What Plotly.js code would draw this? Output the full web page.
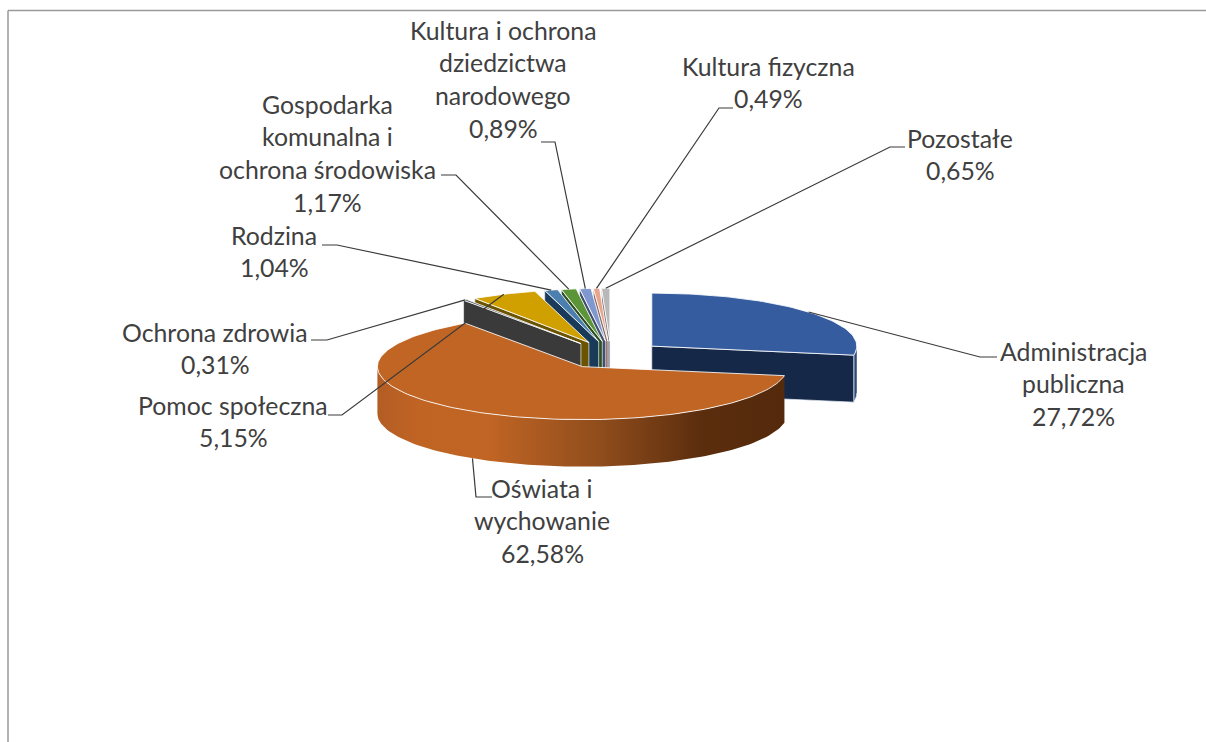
<!DOCTYPE html>
<html>
<head>
<meta charset="utf-8">
<script src="https://cdn.plot.ly/plotly-3.0.1.min.js"></script>
<style>html,body{margin:0;padding:0;background:#fff}#chart{width:1206px;height:742px}</style>
</head>
<body>
<div id="chart"></div>
<script>
// Data, in pie order (clockwise from 12 o'clock)
const categories = ['Administracja publiczna','Oświata i wychowanie','Ochrona zdrowia','Pomoc społeczna','Rodzina','Gospodarka komunalna i ochrona środowiska','Kultura i ochrona dziedzictwa narodowego','Kultura fizyczna','Pozostałe'];
const shares = [27.72,62.58,0.31,5.15,1.04,1.17,0.89,0.49,0.65];
const labelLines = [['Administracja','publiczna'],['Oświata i','wychowanie'],['Ochrona zdrowia'],['Pomoc społeczna'],['Rodzina'],['Gospodarka','komunalna i','ochrona środowiska'],['Kultura i ochrona','dziedzictwa','narodowego'],['Kultura fizyczna'],['Pozostałe']];
const topColors = ['#355c9f','#c16524','#4a4a4a','#d09f00','#4a7fb0','#5b9538','#7f98cf','#e8a58c','#b8b8b8'];
const wallColors = ['#152847','#542a0c','#3a3a3a','#6b5300','#1a3a5a','#2f4f1f','#434f70','#8a6a60','#777777'];
// Label layout (px): centre x, first-line centre y, line spacing
const labelX = [1073,542,215,233,274,327,503,768,960];
const labelY = [351,488,332,405,235,104,30,66,138];
const lineGap = 32.7;
// Leader elbows (px): [far end x, elbow x, elbow y]
const elbows = [[997,980,357],[492,476,497],[311,327,340],[328,342,415],[322,337,245],[441,456,175],[541,555,142],[733,719,108],[905,890,147]];

// Projection of the exploded 3-D pie
const CX = 611, CY = 355, RX = 205, RY = 53, EXPLODE = 0.26, DEPTH = 47;
const rad = d => d * Math.PI / 180;
let acc = 0;
const slices = shares.map((s, i) => {
  const a0 = acc / 100 * 360; acc += s; const a1 = acc / 100 * 360; const mid = (a0 + a1) / 2;
  return {i, a0, a1, mid, cx: CX + EXPLODE * RX * Math.sin(rad(mid)), cy: CY - EXPLODE * RY * Math.cos(rad(mid))};
});
const rimPt = (sl, a, dz) => [sl.cx + RX * Math.sin(rad(a)), sl.cy - RY * Math.cos(rad(a)) + (dz || 0)];
const arc = (sl, a0, a1, dz) => { const p = []; const n = Math.max(2, Math.ceil(Math.abs(a1 - a0) / 1.5)); for (let k = 0; k <= n; k++) p.push(rimPt(sl, a0 + (a1 - a0) * k / n, dz)); return p; };
const poly = (pts, color, line, extra) => Object.assign({type:'scatter', mode: line ? 'lines' : 'none', x: pts.map(p => p[0]), y: pts.map(p => p[1]), fill:'toself', fillcolor: color, line: line || {width:0}, hoverinfo:'skip', showlegend:false}, extra || {});
const edge = {color:'rgba(255,255,255,0.85)', width:1};
const softEdge = {color:'rgba(235,240,250,0.7)', width:1};
const traces = [];

function drawWall(sl, a, color) {
  const r = rimPt(sl, a);
  traces.push(poly([[sl.cx, sl.cy],[r[0], r[1]],[r[0], r[1] + DEPTH],[sl.cx, sl.cy + DEPTH],[sl.cx, sl.cy]], color, softEdge));
}
function drawTop(sl, color) {
  traces.push(poly([[sl.cx, sl.cy]].concat(arc(sl, sl.a0, sl.a1)).concat([[sl.cx, sl.cy]]), color, edge));
}

// Administracja: end wall + outer rim sliver + top
const adm = slices[0];
traces.push(poly(arc(adm, 90, adm.a1).concat(arc(adm, adm.a1, 90, DEPTH)), '#2b4a7a', softEdge));
drawWall(adm, adm.a1, wallColors[0]);
drawTop(adm, topColors[0]);

// Small slices, back to front
for (let i = slices.length - 1; i >= 2; i--) {
  drawWall(slices[i], slices[i].a0, wallColors[i]);
  drawTop(slices[i], topColors[i]);
}

// Oświata: gradient rim + top
const osw = slices[1];
traces.push(poly(arc(osw, osw.a0, 270).concat(arc(osw, 270, osw.a0, DEPTH)), '#c16524', {width:0}, {
  fillgradient: {type:'horizontal', colorscale:[[0,'#b35d24'],[0.1,'#c06424'],[0.27,'#c16524'],[0.55,'#8f4c1c'],[0.8,'#5a2d0d'],[1,'#542a0c']]}
}));
drawTop(osw, topColors[1]);

// Leader lines, anchored at each slice's mid-angle
slices.forEach((sl, i) => {
  const anchor = i === 1 ? rimPt(sl, sl.mid, DEPTH) : rimPt(sl, sl.mid);
  const e = elbows[i];
  traces.push({type:'scatter', mode:'lines', x:[e[0], e[1], anchor[0]], y:[e[2], e[2], anchor[1]], line:{color:'#3a3a3a', width:1.2}, hoverinfo:'skip', showlegend:false});
});

// Labels
const annotations = [];
const pct = v => v.toFixed(2).replace('.', ',') + '%';
categories.forEach((c, i) => {
  labelLines[i].concat([pct(shares[i])]).forEach((t, k) => {
    annotations.push({xref:'x', yref:'y', x:labelX[i], y:labelY[i] + k * lineGap, text:t, showarrow:false, xanchor:'center', yanchor:'middle', font:{family:'Lato, "Open Sans", sans-serif', size:24.8, color:'#404040'}});
  });
});

const frame = {color:'#9a9a9a', width:1.5};
const layout = {
  width:1206, height:742, margin:{l:0,r:0,t:0,b:0},
  paper_bgcolor:'#ffffff', plot_bgcolor:'#ffffff', showlegend:false,
  xaxis:{range:[0,1206], visible:false, fixedrange:true},
  yaxis:{range:[742,0], visible:false, fixedrange:true},
  annotations,
  shapes:[
    {type:'line', xref:'paper', yref:'paper', x0:8/1206, x1:8/1206, y0:0, y1:1-10.5/742, line:frame},
    {type:'line', xref:'paper', yref:'paper', x0:8/1206, x1:1, y0:1-10.5/742, y1:1-10.5/742, line:frame}
  ]
};
Plotly.newPlot('chart', traces, layout, {displayModeBar:false, staticPlot:true});
</script>
</body>
</html>
